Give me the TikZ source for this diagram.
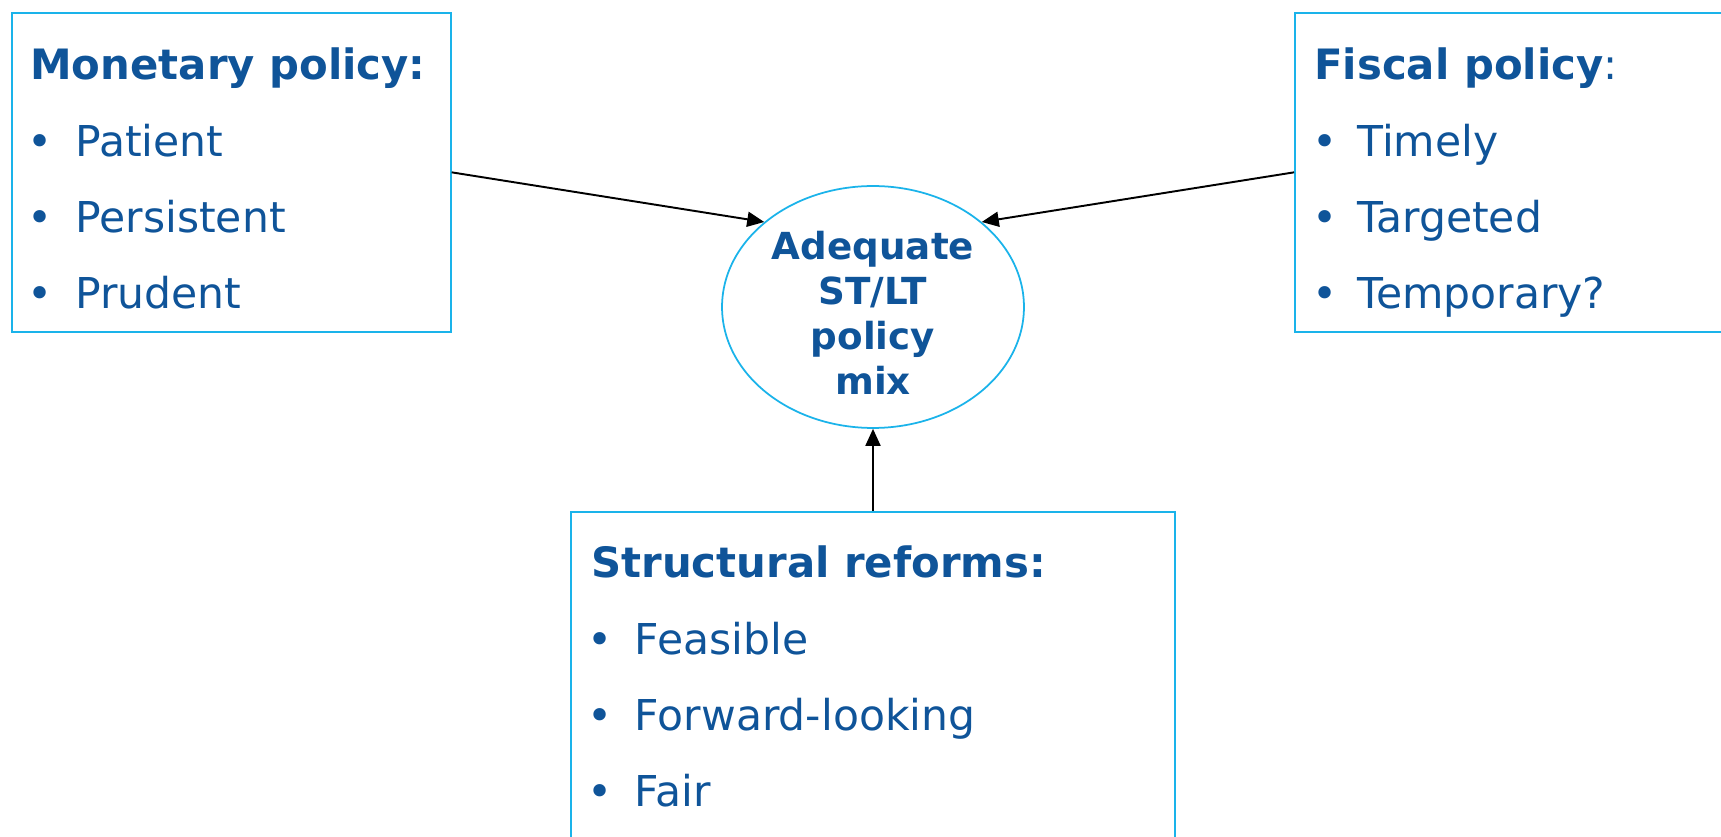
\documentclass[tikz,border=0pt]{standalone}
\usepackage{fontspec}
\setmainfont{DejaVu Sans}
\usetikzlibrary{positioning, arrows.meta, shapes.geometric}
\definecolor{deepblue}{HTML}{0F5499}
\definecolor{skyline}{HTML}{1AB3EA}

% bullet followed by its text, #1 is the indent of the text
\newcommand{\dotrow}[2]{\makebox[#1][l]{\textbullet}#2}

\begin{document}
\begin{tikzpicture}[x=0.02cm, y=-0.02cm,
    every node/.style={font=\fontsize{24.2}{28}\selectfont, color=deepblue},
    panel/.style={rectangle, draw=skyline, line width=1pt,
      anchor=north west, inner sep=0pt, minimum height=6.38cm},
    head/.style={anchor=base west, inner sep=0pt,
      font=\fontsize{23.8}{28}\selectfont\bfseries},
    itm/.style={anchor=base west, inner sep=0pt},
    hub/.style={ellipse, draw=skyline, line width=1pt, fill=white,
      minimum width=6.04cm, minimum height=4.84cm, inner sep=0pt},
    hubtext/.style={align=center, inner sep=0pt,
      font=\fontsize{21.2}{25.6}\selectfont\bfseries},
    arr/.style={-{Triangle[length=3.4mm, width=3mm]}, line width=1.1pt,
      color=black}]

  \useasboundingbox (0,0) rectangle (1721,837);
  \clip (0,0) rectangle (1721,837);

  % framed panels
  \node[panel, minimum width=8.78cm] (monetary) at (11,12) {};
  \node[panel, minimum width=9cm] (fiscal) at (1294,12) {};
  \node[panel, minimum width=12.08cm, minimum height=7cm] (structural) at (570,511) {};

  % panel texts
  \node[head] (mphead) at (30,80) {Monetary policy:};
  \foreach \word [count=\i] in {Patient, Persistent, Prudent}
    \node[itm] (mp\i) at (27,{80+76.3*\i}) {\dotrow{0.96cm}{\word}};

  \node[head] (fphead) at (1314,80) {Fiscal policy\mdseries:};
  \foreach \word [count=\i] in {Timely, Targeted, Temporary?}
    \node[itm] (fp\i) at (1312,{80+76.3*\i}) {\dotrow{0.9cm}{\word}};

  \node[head] (srhead) at (591,578) {Structural reforms:};
  \foreach \word [count=\i] in {Feasible, Forward-looking, Fair}
    \node[itm] (sr\i) at (587,{578+76.3*\i}) {\dotrow{0.95cm}{\word}};

  % the mix in the middle
  \node[hub] (mix) at (873,307) {};
  \node[hubtext] (mixtext) at (873,313) {Adequate\\ST/LT\\policy\\mix};

  \draw[arr] (monetary.east) -- (mix.142);
  \draw[arr] (fiscal.west) -- (mix.38);
  \draw[arr] (structural.north -| mix.south) -- (mix.south);
\end{tikzpicture}
\end{document}
